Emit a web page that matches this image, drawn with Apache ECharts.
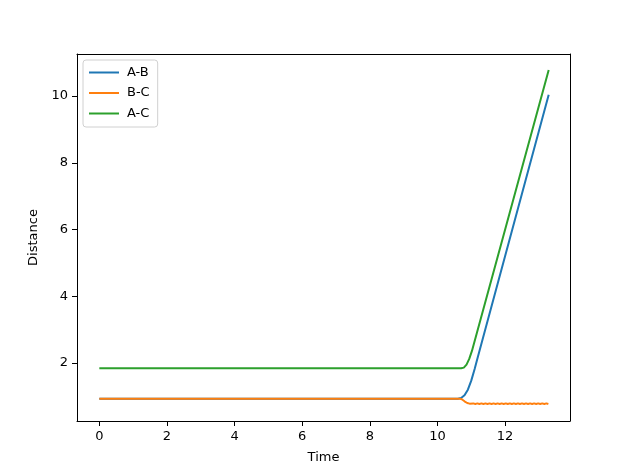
<!DOCTYPE html>
<html>
<head>
<meta charset="utf-8">
<script src="https://cdn.jsdelivr.net/npm/echarts@6/dist/echarts.min.js"></script>
<style>
    html, body { margin: 0; padding: 0; background: #fff; }
    #echart_1 { width: 633px; height: 472px; }
</style>
</head>
<body>
<div id="echart_1"></div>
<script>
// 数据：[时间, 距离]
var seriesNames = ['A-B', 'B-C', 'A-C'];
var seriesColors = ['#1f77b4', '#ff7f0e', '#2ca02c'];

var dataAB = [
    [0, 0.93], [10.6, 0.93], [10.7, 0.95], [10.8, 1.03], [10.9, 1.2],
    [11.0, 1.47], [11.1, 1.82], [11.2, 2.2], [13.29, 10.04]
];

var dataAC = [
    [0, 1.84], [10.7, 1.84], [10.78, 1.86], [10.86, 1.95], [10.94, 2.12],
    [11.02, 2.36], [13.29, 10.78]
];

var dataBC = [
    [0, 0.93], [10.65, 0.93], [10.72, 0.91], [10.8, 0.85], [10.88, 0.8], [10.95, 0.78],
    [11.00, 0.770], [11.06, 0.788], [11.12, 0.770], [11.18, 0.788], [11.24, 0.770],
    [11.30, 0.788], [11.36, 0.770], [11.42, 0.788], [11.48, 0.770], [11.54, 0.788],
    [11.60, 0.770], [11.66, 0.788], [11.72, 0.770], [11.78, 0.788], [11.84, 0.770],
    [11.90, 0.788], [11.96, 0.770], [12.02, 0.788], [12.08, 0.770], [12.14, 0.788],
    [12.20, 0.770], [12.26, 0.788], [12.32, 0.770], [12.38, 0.788], [12.44, 0.770],
    [12.50, 0.788], [12.56, 0.770], [12.62, 0.788], [12.68, 0.770], [12.74, 0.788],
    [12.80, 0.770], [12.86, 0.788], [12.92, 0.770], [12.98, 0.788], [13.04, 0.770],
    [13.10, 0.788], [13.16, 0.770], [13.22, 0.788], [13.28, 0.770]
];

var xTicks = [0, 2, 4, 6, 8, 10, 12];
var yTicks = [2, 4, 6, 8, 10];

echart_1();

function echart_1() {
    var myChart = echarts.init(document.getElementById('echart_1'));
    var font = 'DejaVu Sans';
    var seriesData = [dataAB, dataBC, dataAC];

    var series = seriesNames.map(function (name, i) {
        return {
            name: name,
            type: 'line',
            data: seriesData[i],
            symbol: 'none',
            animation: false,
            lineStyle: { color: seriesColors[i], width: 2 },
            itemStyle: { color: seriesColors[i] }
        };
    });

    // 上边和右边的框线用不带刻度的轴来画
    function frameAxis(pos) {
        return {
            type: 'value',
            position: pos,
            show: true,
            splitLine: { show: false },
            axisLine: { show: true, onZero: false, lineStyle: { color: '#000', width: 1 } },
            axisTick: { show: false },
            axisLabel: { show: false }
        };
    }

    function tickAxis(ticks, extra) {
        return Object.assign({
            type: 'value',
            splitLine: { show: false },
            axisLine: { show: true, onZero: false, lineStyle: { color: '#000', width: 1 } },
            axisTick: {
                show: true,
                inside: false,
                length: 5,
                customValues: ticks,
                lineStyle: { color: '#000', width: 1 }
            },
            axisLabel: {
                customValues: ticks,
                margin: 9,
                fontFamily: font,
                fontSize: 13,
                color: '#000'
            },
            nameLocation: 'middle',
            nameTextStyle: { fontFamily: font, fontSize: 13, color: '#000' }
        }, extra);
    }

    var xMin = -0.66, xMax = 13.92, yMin = 0.26, yMax = 11.26;

    var option = {
        animation: false,
        textStyle: { fontFamily: font },
        grid: {
            left: 77,
            right: 63,
            top: 54,
            bottom: 51,
            show: false,
            containLabel: false
        },
        legend: {
            orient: 'vertical',
            left: 83,
            top: 60,
            padding: [6, 8, 7, 5],
            itemWidth: 30,
            itemHeight: 14,
            itemGap: 7.5,
            itemStyle: { opacity: 0 }, // 只显示线，不显示圆点
            borderColor: '#d0d0d0',
            borderWidth: 1,
            borderRadius: 3,
            backgroundColor: 'rgba(255,255,255,0.8)',
            textStyle: { fontFamily: font, fontSize: 13, color: '#000', padding: [0, 0, 0, 3] },
            data: seriesNames
        },
        xAxis: [
            tickAxis(xTicks, { min: xMin, max: xMax, position: 'bottom', name: 'Time', nameGap: 30 }),
            Object.assign(frameAxis('top'), { min: xMin, max: xMax })
        ],
        yAxis: [
            tickAxis(yTicks, { min: yMin, max: yMax, position: 'left', name: 'Distance', nameGap: 31.5 }),
            Object.assign(frameAxis('right'), { min: yMin, max: yMax })
        ],
        series: series
    };

    myChart.setOption(option);
}
</script>
</body>
</html>
